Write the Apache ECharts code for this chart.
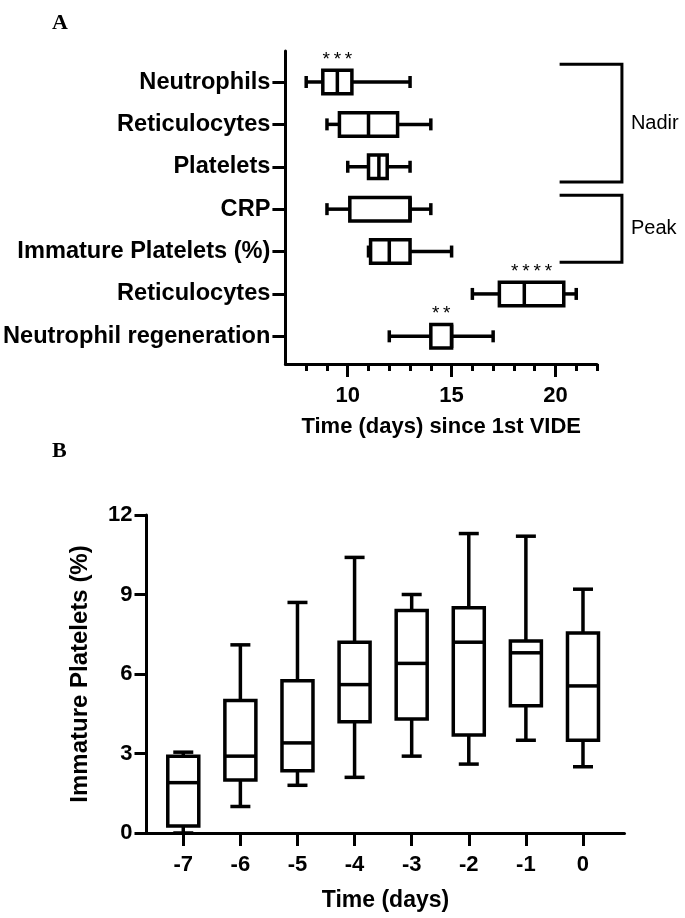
<!DOCTYPE html>
<html><head><meta charset="utf-8">
<script src="https://cdn.jsdelivr.net/npm/echarts@6/dist/echarts.min.js"></script>
<style>html,body{margin:0;padding:0;background:#fff}#c{width:685px;height:918px}</style>
</head><body><div id="c"></div>
<script>
// ---- Panel A data (horizontal box plots, days since 1st VIDE)
const catsA = ['Neutrophils','Reticulocytes','Platelets','CRP','Immature Platelets (%)','Reticulocytes','Neutrophil regeneration'];
const minA  = [8,    9,    10,   9,    11,   16,   12];
const q1A   = [8.8,  9.6,  11,   10.1, 11.1, 17.3, 14];
const medA  = [9.5,  11,   11.5, 13,   12,   18.5, 15];
const q3A   = [10.2, 12.4, 11.9, 13,   13,   20.4, 15];
const maxA  = [13,   14,   13,   14,   15,   21,   17];
const starsA = ['***','','','','','****','**'];
const xTicksA = [8,9,10,11,12,13,14,15,16,17,18,19,20,21,22];
const xLabelsA = [10,15,20];
const groupNames = ['Nadir','Peak'];
const groupFrom = [-0.42, 2.67];
const groupTo   = [2.36, 4.25];

// ---- Panel B data (immature platelets % by day)
const catsB = ['-7','-6','-5','-4','-3','-2','-1','0'];
const daysB = [-7,-6,-5,-4,-3,-2,-1,0];
const minB = [0,    1.0, 1.8,  2.1,  2.9, 2.6, 3.5,  2.5];
const q1B  = [0.26, 2.0, 2.35, 4.2,  4.3, 3.7, 4.8,  3.5];
const medB = [1.9,  2.9, 3.4,  5.6,  6.4, 7.2, 6.8,  5.55];
const q3B  = [2.9,  5.0, 5.75, 7.2,  8.4, 8.5, 7.25, 7.55];
const maxB = [3.05, 7.1, 8.7,  10.4, 9.0, 11.3, 11.2, 9.2];
const yTicksB = [0,3,6,9,12];

const FONT = 'Liberation Sans, Arial, sans-serif';
const LW = 3.5;

const dataA = catsA.map((c,i)=>[i, minA[i], q1A[i], medA[i], q3A[i], maxA[i]]);
const dataB = daysB.map((d,i)=>[d, minB[i], q1B[i], medB[i], q3B[i], maxB[i]]);
const dataBr = groupNames.map((g,i)=>[groupFrom[i], groupTo[i]]);

function ln(x1,y1,x2,y2){return {type:'line',shape:{x1,y1,x2,y2},style:{stroke:'#000',lineWidth:LW}};}

function renderA(params, api){
  const r = api.value(0);
  const pMin = api.coord([api.value(1), r]);
  const pQ1 = api.coord([api.value(2), r]);
  const pMed = api.coord([api.value(3), r]);
  const pQ3 = api.coord([api.value(4), r]);
  const pMax = api.coord([api.value(5), r]);
  const y = pMed[1], bh = 23.5, ch = 12;
  const ch2 = [
    ln(pMin[0], y, pQ1[0], y),
    ln(pQ3[0], y, pMax[0], y),
    ln(pMin[0], y-ch/2, pMin[0], y+ch/2),
    ln(pMax[0], y-ch/2, pMax[0], y+ch/2),
    {type:'rect',shape:{x:pQ1[0],y:y-bh/2,width:pQ3[0]-pQ1[0],height:bh},style:{stroke:'#000',fill:'#fff',lineWidth:LW}},
    ln(pMed[0], y-bh/2, pMed[0], y+bh/2)
  ];
  const s = starsA[params.dataIndex];
  if (s) {
    ch2.push({type:'text',style:{text:s.split('').join('\u2009'),x:(pQ1[0]+pQ3[0])/2,y:y-bh/2-1,fill:'#000',font:'19px '+FONT,align:'center',verticalAlign:'bottom'}});
  }
  return {type:'group',children:ch2};
}

function renderB(params, api){
  const d = api.value(0);
  const pMin = api.coord([d, api.value(1)]);
  const pQ1 = api.coord([d, api.value(2)]);
  const pMed = api.coord([d, api.value(3)]);
  const pQ3 = api.coord([d, api.value(4)]);
  const pMax = api.coord([d, api.value(5)]);
  const x = pMed[0], bw = 31, cw = 20;
  return {type:'group',children:[
    ln(x, pMin[1], x, pQ1[1]),
    ln(x, pQ3[1], x, pMax[1]),
    ln(x-cw/2, pMin[1], x+cw/2, pMin[1]),
    ln(x-cw/2, pMax[1], x+cw/2, pMax[1]),
    {type:'rect',shape:{x:x-bw/2,y:pQ3[1],width:bw,height:pQ1[1]-pQ3[1]},style:{stroke:'#000',fill:'#fff',lineWidth:LW}},
    ln(x-bw/2, pMed[1], x+bw/2, pMed[1])
  ]};
}

function renderBr(params, api){
  const p1 = api.coord([20.2, api.value(0)]);
  const p2 = api.coord([20.2, api.value(1)]);
  const xr = api.coord([23.2, 0])[0];
  const name = groupNames[params.dataIndex];
  return {type:'group',children:[
    {type:'polyline',shape:{points:[[p1[0],p1[1]],[xr,p1[1]],[xr,p2[1]],[p2[0],p2[1]]]},style:{stroke:'#000',fill:null,lineWidth:3}},
    {type:'text',style:{text:name,x:xr+9,y:(p1[1]+p2[1])/2,fill:'#000',font:'20px '+FONT,align:'left',verticalAlign:'middle'}}
  ]};
}

const axLine = {show:true,onZero:false,lineStyle:{color:'#000',width:3}};
const tickStyle = {color:'#000',width:3};
const lblStyle = {color:'#000',fontWeight:'bold',fontFamily:FONT};

const option = {
  animation:false,
  backgroundColor:'#fff',
  title:[
    {text:'A',left:47,top:7,textStyle:{fontFamily:'Liberation Serif, Times New Roman, serif',fontWeight:'bold',fontSize:22,color:'#000'}},
    {text:'B',left:47,top:435,textStyle:{fontFamily:'Liberation Serif, Times New Roman, serif',fontWeight:'bold',fontSize:22,color:'#000'}}
  ],
  grid:[
    {left:284,right:88,top:51,bottom:554,containLabel:false},
    {left:146.5,right:60.5,top:515,bottom:85,containLabel:false}
  ],
  xAxis:[
    {gridIndex:0,type:'value',min:7,max:22,position:'bottom',axisLine:axLine,splitLine:{show:false},
     axisTick:{show:true,length:7,lineStyle:tickStyle,customValues:xTicksA},
     axisLabel:Object.assign({fontSize:22,margin:21,customValues:xLabelsA},lblStyle),
     name:'Time (days) since 1st VIDE',nameLocation:'middle',nameGap:52,
     nameTextStyle:Object.assign({fontSize:22},lblStyle)},
    {gridIndex:0,type:'value',min:7,max:22,position:'bottom',axisLine:{show:false,onZero:false},splitLine:{show:false},
     axisTick:{show:true,length:13,lineStyle:tickStyle,customValues:xLabelsA},
     axisLabel:{show:false}},
    {gridIndex:1,type:'value',min:-7.644,max:0.727,position:'bottom',axisLine:axLine,splitLine:{show:false},
     axisTick:{show:true,length:13,lineStyle:tickStyle,customValues:daysB},
     axisLabel:Object.assign({fontSize:22,margin:21,customValues:daysB,formatter:v=>catsB[daysB.indexOf(v)]},lblStyle),
     name:'Time (days)',nameLocation:'middle',nameGap:56,
     nameTextStyle:Object.assign({fontSize:23},lblStyle)}
  ],
  yAxis:[
    {gridIndex:0,type:'value',inverse:true,min:-0.731,max:6.653,position:'left',axisLine:axLine,splitLine:{show:false},
     axisTick:{show:true,length:13,lineStyle:tickStyle,customValues:[0,1,2,3,4,5,6]},
     axisLabel:Object.assign({fontSize:23.6,margin:15,customValues:[0,1,2,3,4,5,6],formatter:v=>catsA[v]},lblStyle)},
    {gridIndex:1,type:'value',min:0,max:12,interval:3,position:'left',axisLine:axLine,splitLine:{show:false},
     axisTick:{show:true,length:12,lineStyle:tickStyle},
     axisLabel:Object.assign({fontSize:22,margin:14,customValues:yTicksB},lblStyle),
     name:'Immature Platelets (%)',nameLocation:'middle',nameGap:54,nameRotate:90,
     nameTextStyle:Object.assign({fontSize:24},lblStyle)}
  ],
  series:[
    {type:'custom',xAxisIndex:0,yAxisIndex:0,renderItem:renderA,data:dataA,clip:false,
     encode:{x:[1,2,3,4,5],y:0}},
    {type:'custom',xAxisIndex:0,yAxisIndex:0,renderItem:renderBr,data:dataBr,clip:false,
     encode:{y:[0,1]}},
    {type:'custom',xAxisIndex:2,yAxisIndex:1,renderItem:renderB,data:dataB,clip:false,
     encode:{x:0,y:[1,2,3,4,5]}}
  ]
};
echarts.init(document.getElementById('c'),null,{renderer:'canvas'}).setOption(option);
</script></body></html>
